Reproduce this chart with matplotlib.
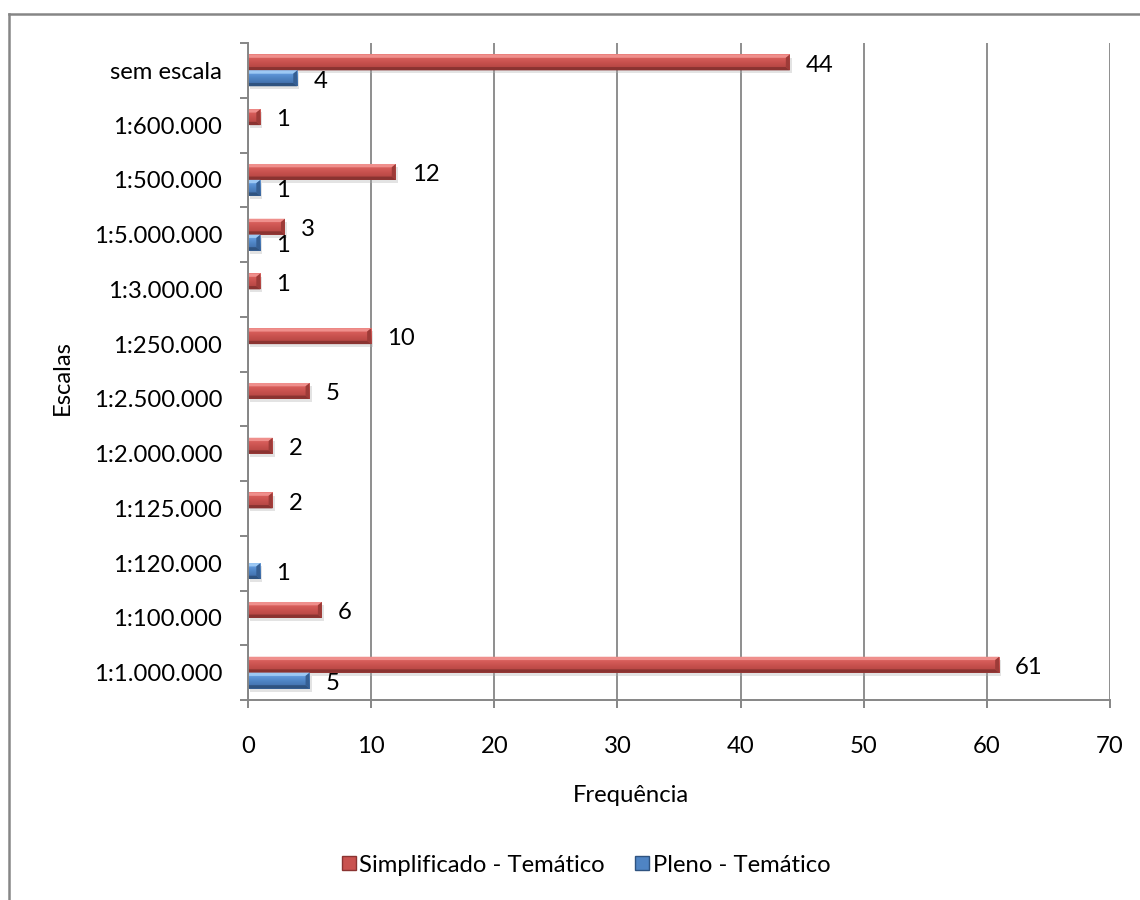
import numpy as np
import matplotlib
matplotlib.use("Agg")
import matplotlib.pyplot as plt
from matplotlib.lines import Line2D
from matplotlib.patches import Rectangle, Polygon
from matplotlib.colors import LinearSegmentedColormap
import matplotlib.patheffects as pe

plt.rcParams['font.family'] = ['Lato', 'DejaVu Sans']

# Map scales, bottom to top
escalas = ["1:1.000.000", "1:100.000", "1:120.000", "1:125.000", "1:2.000.000",
           "1:2.500.000", "1:250.000", "1:3.000.00", "1:5.000.000", "1:500.000",
           "1:600.000", "sem escala"]
simplificado = [61, 6, 0, 2, 2, 5, 10, 1, 3, 12, 1, 44]
pleno = [5, 0, 1, 0, 0, 0, 0, 0, 1, 1, 0, 4]
series_names = ["Simplificado - Temático", "Pleno - Temático"]
x_ticks = [0, 10, 20, 30, 40, 50, 60, 70]

W, H = 1140, 900
fig = plt.figure(figsize=(W / 100, H / 100), dpi=100)
ax = fig.add_axes([248 / W, 1 - 700 / H, (1110 - 248) / W, (700 - 43) / H])

grey = "#868686"
fs = 17.2

styles = {
    "red": dict(base="#c0504d", top="#ef8f8c", bottom="#8a3331", end="#9d3b38",
                face=["#e77572", "#d65d5a", "#c9524f", "#bb4a47", "#a94240"]),
    "blue": dict(base="#4f81bd", top="#9cc8f4", bottom="#2f5380", end="#365f93",
                 face=["#7db1ea", "#5e95d8", "#4f84c4", "#4676b3", "#3d68a0"]),
}

pos = np.arange(len(escalas))
bar_h = 0.29
dy = 0.06   # bevel depth, vertical (data units)
dx_px = 4   # bevel depth, horizontal (pixels)
shadow = [pe.SimplePatchShadow(offset=(1.5, -2.2), shadow_rgbFace="#b0b0b0", alpha=0.35), pe.Normal()]


def draw_series(values, offset, style):
    st = styles[style]
    cmap = LinearSegmentedColormap.from_list(style + "_face", st["face"])
    vals = np.array(values, dtype=float)
    vals[vals == 0] = np.nan
    bars = ax.barh(pos + offset, np.nan_to_num(vals), height=bar_h, color=st["base"],
                   edgecolor="none", zorder=3, path_effects=shadow)
    dx = dx_px * 70 / (1110 - 248)
    grad = np.linspace(0, 1, 64).reshape(-1, 1)
    for b, v in zip(bars, vals):
        if np.isnan(v):
            b.set_visible(False)
            continue
        x0, y0 = b.get_x(), b.get_y()
        w, h = b.get_width(), b.get_height()
        x1, y1 = x0 + w, y0 + h
        im = ax.imshow(grad, cmap=cmap, aspect="auto", origin="upper",
                       extent=(x0, x1, y0, y1), zorder=4, interpolation="bilinear")
        im.set_clip_path(b)
        ddx = min(dx, w / 2)
        ax.add_patch(Polygon([(x0, y1), (x1, y1), (x1 - ddx, y1 - dy), (x0, y1 - dy)],
                             closed=True, facecolor=st["top"], edgecolor="none", zorder=5))
        ax.add_patch(Polygon([(x0, y0), (x1, y0), (x1 - ddx, y0 + dy), (x0, y0 + dy)],
                             closed=True, facecolor=st["bottom"], edgecolor="none", zorder=5))
        ax.add_patch(Polygon([(x1, y0), (x1, y1), (x1 - ddx, y1 - dy), (x1 - ddx, y0 + dy)],
                             closed=True, facecolor=st["end"], edgecolor="none", zorder=5))
        ax.annotate(f"{int(v)}", (x1, y0 + h / 2), xytext=(11.5, -2),
                    textcoords="offset points", ha="left", va="center",
                    fontsize=fs, color="black", zorder=6)
    return bars


draw_series(simplificado, bar_h / 2, "red")
draw_series(pleno, -bar_h / 2, "blue")

ax.set_xlim(0, 70)
ax.set_ylim(-0.5, len(escalas) - 0.5)
ax.set_xticks(x_ticks)
ax.set_xticklabels([str(t) for t in x_ticks], fontsize=fs)
ax.set_yticks(pos)
ax.set_yticklabels(escalas, fontsize=fs)
ax.set_yticks(np.arange(len(escalas) + 1) - 0.5, minor=True)
ax.tick_params(axis="y", which="major", length=0, pad=18.5)
ax.tick_params(axis="y", which="minor", length=5.8, width=1.4, color=grey, direction="out")
ax.tick_params(axis="x", which="major", length=5.8, width=1.4, color=grey, pad=20)
ax.grid(axis="x", color=grey, linewidth=1.3, zorder=0)
ax.set_axisbelow(True)
for s in ["top", "right"]:
    ax.spines[s].set_visible(False)
for s in ["left", "bottom"]:
    ax.spines[s].set_color(grey)
    ax.spines[s].set_linewidth(1.4)
    ax.spines[s].set_zorder(5)

fig.text(631 / W, 1 - 796 / H, "Frequência", ha="center", va="center", fontsize=fs)
fig.text(62 / W, 1 - 378 / H, "Escalas", ha="center", va="center", rotation=90, fontsize=fs)

handles = [Rectangle((0, 0), 1, 1, facecolor="#c9524f", edgecolor="#8a3331", linewidth=1.0),
           Rectangle((0, 0), 1, 1, facecolor="#4f84c4", edgecolor="#2f5380", linewidth=1.0)]
fig.legend(handles, series_names, loc="center", bbox_to_anchor=(586 / W, 1 - 865 / H),
           ncol=2, frameon=False, fontsize=fs, handlelength=0.6, handleheight=0.55,
           handletextpad=0.15, columnspacing=1.25)

# Outer chart frame
fig.add_artist(Line2D([8.5 / W, 8.5 / W], [0, 1 - 13.5 / H], transform=fig.transFigure,
                      color=grey, linewidth=1.8))
fig.add_artist(Line2D([8.5 / W, 1], [1 - 13.5 / H, 1 - 13.5 / H], transform=fig.transFigure,
                      color=grey, linewidth=1.8))

fig.savefig("out.png", dpi=100, facecolor="white")
